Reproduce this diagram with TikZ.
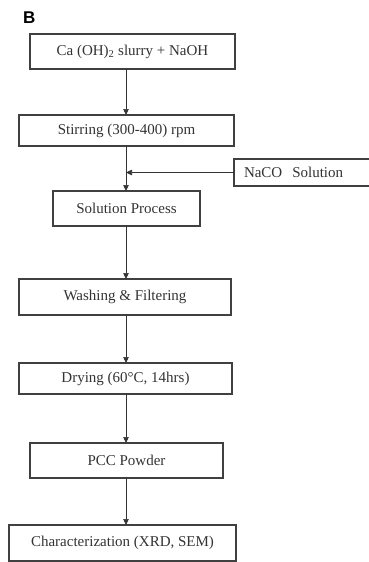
\documentclass[tikz,border=0pt]{standalone}
\usepackage{fontspec}
\setmainfont{Liberation Serif}
\newfontfamily\panelfont{Liberation Sans}
\usepackage{tikz}
\usetikzlibrary{arrows.meta,positioning}

\begin{document}
\begin{tikzpicture}[
  font=\fontsize{15}{18}\selectfont,
  box/.style={draw=black!75, line width=1.1pt, align=center, inner sep=0pt,
              outer sep=0pt, text=black!80},
  arr/.style={-{Triangle[length=6pt, width=5.5pt]}, line width=0.6pt, draw=black!80},
  panel/.style={font=\panelfont\bfseries\fontsize{17}{17}\selectfont, inner sep=0pt, anchor=south west}
]
\useasboundingbox (0,0) rectangle (369pt,-562pt);
\coordinate (spine) at (126pt,0);

\node[box, minimum width=205pt, minimum height=35pt] (feed) at (132.5pt,-51.5pt) {Ca (OH)\textsubscript{2} slurry + NaOH};
\node[box, below=46pt of feed, xshift=-6pt, minimum width=215pt, minimum height=31pt] (stir) {Stirring (300-400) rpm};
\node[box, below right=13pt and 0pt of stir, minimum width=170pt, minimum height=27pt,
      text width=150pt, align=left, inner xsep=10pt] (naco) {NaCO\ \ Solution};
\node[box, below=45pt of stir, minimum width=147pt, minimum height=35pt] (sol) {Solution Process};
\node[box, below=53pt of sol, xshift=-1.5pt, minimum width=212pt, minimum height=36pt] (wash) {Washing \& Filtering};
\node[box, below=48pt of wash, xshift=0.5pt, minimum width=213pt, minimum height=31pt] (dry) {Drying (60°C, 14hrs)};
\node[box, below=49pt of dry, xshift=1pt, minimum width=193pt, minimum height=35pt] (pcc) {PCC Powder};
\node[box, below=47pt of pcc, xshift=-4pt, minimum width=227pt, minimum height=36pt] (char) {Characterization (XRD, SEM)};
\node[panel] (tag) at ([xshift=-7pt, yshift=10pt]feed.north west) {B};

\draw[arr] (feed.south -| spine) -- (stir.north -| spine);
\draw[arr] (stir.south -| spine) -- (sol.north -| spine);
\draw[arr] (naco.west) -- (naco.west -| spine);
\draw[arr] (sol.south -| spine) -- (wash.north -| spine);
\draw[arr] (wash.south -| spine) -- (dry.north -| spine);
\draw[arr] (dry.south -| spine) -- (pcc.north -| spine);
\draw[arr] (pcc.south -| spine) -- (char.north -| spine);
\end{tikzpicture}
\end{document}
